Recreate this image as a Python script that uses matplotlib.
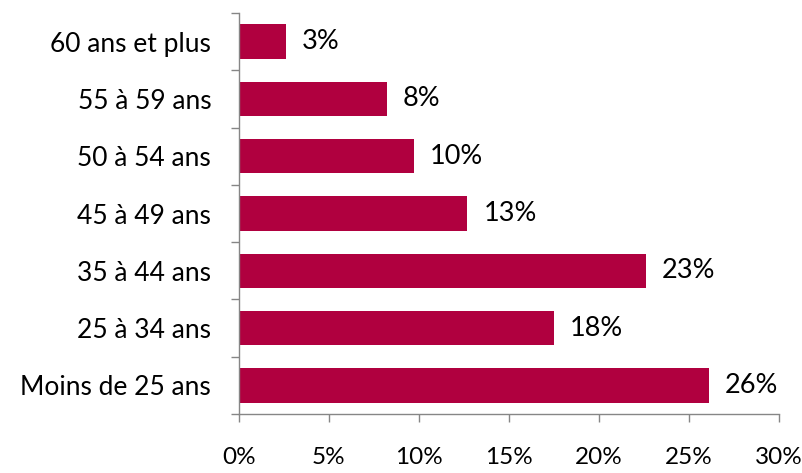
import matplotlib
matplotlib.use("Agg")
from matplotlib import pyplot as plt
from matplotlib.ticker import FuncFormatter

categories = ["Moins de 25 ans", "25 à 34 ans", "35 à 44 ans", "45 à 49 ans",
              "50 à 54 ans", "55 à 59 ans", "60 ans et plus"]
values = [26.1, 17.5, 22.6, 12.7, 9.7, 8.2, 2.6]
value_labels = ["26%", "18%", "23%", "13%", "10%", "8%", "3%"]
x_ticks = [0, 5, 10, 15, 20, 25, 30]

bar_color = "#B0003F"
axis_color = "#868686"
plt.rcParams['font.family'] = ['Lato', 'DejaVu Sans']

fig = plt.figure(figsize=(8.02, 4.73), dpi=100)
ax = fig.add_axes([0.298, 0.1247, 0.673, 0.8478])

pos = list(range(len(categories)))
ax.barh(pos, values, height=0.6, color=bar_color)

for p, v, lab in zip(pos, values, value_labels):
    ax.text(v + 0.9, p, lab, va="center", ha="left", fontsize=19.5, color="black")

ax.set_xlim(0, 30)
ax.set_ylim(-0.5, len(categories) - 0.5)

ax.set_xticks(x_ticks)
ax.xaxis.set_major_formatter(FuncFormatter(lambda x, _: f"{x:.0f}%"))
ax.tick_params(axis="x", direction="out", length=6, width=1, color=axis_color,
               labelsize=17.5, pad=18)

# category labels at centers, tick marks at category boundaries
ax.set_yticks(pos)
ax.set_yticklabels(categories)
ax.tick_params(axis="y", which="major", length=0, labelsize=19, pad=20)
ax.set_yticks([p - 0.5 for p in pos] + [len(categories) - 0.5], minor=True)
ax.tick_params(axis="y", which="minor", direction="out", length=6, width=1,
               color=axis_color)

for side in ["top", "right"]:
    ax.spines[side].set_visible(False)
for side in ["left", "bottom"]:
    ax.spines[side].set_color(axis_color)
    ax.spines[side].set_linewidth(1)

fig.savefig("out.png", dpi=100)
